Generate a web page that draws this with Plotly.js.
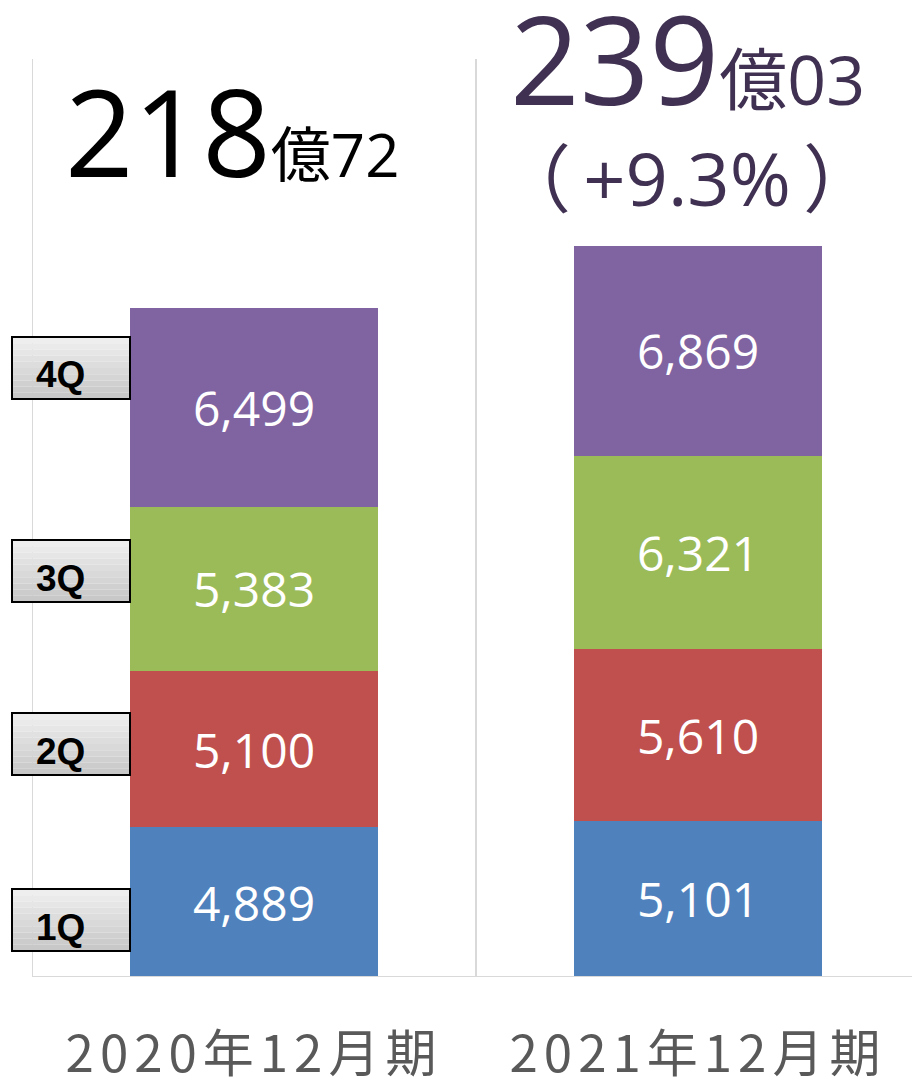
<!DOCTYPE html>
<html>
<head>
<meta charset="utf-8">
<script src="https://cdn.plot.ly/plotly-3.0.1.min.js"></script>
<style>
  html, body { margin: 0; padding: 0; background: #fff; overflow: hidden; }
  #chart { width: 912px; height: 1080px; }
  .xtick text { letter-spacing: 6px; }
</style>
</head>
<body>
<div id="chart"></div>
<script>
// ---- data ----
const categories = ["2020年12月期", "2021年12月期"];
const quarters = ["1Q", "2Q", "3Q", "4Q"];
const q1 = [4889, 5101];
const q2 = [5100, 5610];
const q3 = [5383, 6321];
const q4 = [6499, 6869];
const totalMain = ["218", "239"];
const totalSub = ["億72", "億03"];
const growthLabel = "（\u2009+9.3%\u2009）";

const seriesValues = [q1, q2, q3, q4];
const colors = ["#4f81bd", "#c0504d", "#9bbb59", "#8064a2"];

const fmt = v => v.toLocaleString("en-US");

const traces = seriesValues.map((vals, i) => ({
  type: "bar",
  name: quarters[i],
  x: categories,
  y: vals,
  marker: { color: colors[i], line: { width: 0 } },
  text: vals.map(fmt),
  textposition: "inside",
  insidetextanchor: "middle",
  textangle: 0,
  textfont: { family: "Open Sans, Noto Sans, sans-serif", size: 48, color: "#ffffff" },
  hoverinfo: "skip",
  cliponaxis: false
}));

// layout helpers (pixel -> paper)
const W = 912, H = 1080;
const mL = 32, mR = 0, mT = 59, mB = 103;
const plotW = W - mL - mR, plotH = H - mT - mB;
const px = X => (X - mL) / plotW;
const py = Y => (H - mB - Y) / plotH;

const gridColor = "#d9d9d9";
const shapes = [];
// vertical separators between categories
[-0.5, 0.5, 1.5].forEach(xv => {
  shapes.push({ type: "line", xref: "x", yref: "paper", x0: xv, x1: xv, y0: 0, y1: 1,
    line: { color: gridColor, width: 2 }, layer: "below" });
});
// baseline
shapes.push({ type: "line", xref: "paper", yref: "y", x0: 0, x1: 1, y0: 0, y1: 0,
  line: { color: gridColor, width: 2 }, layer: "above" });

// quarter label boxes (left) with a soft vertical gradient
const boxTops = { "4Q": 337, "3Q": 540, "2Q": 713, "1Q": 889 };
const boxH = 62;
const bands = 10;
const annotations = [];
quarters.forEach(q => {
  const t = boxTops[q];
  for (let b = 0; b < bands; b++) {
    const g = Math.round(238 - (238 - 200) * b / (bands - 1));
    shapes.push({ type: "rect", xref: "paper", yref: "paper",
      x0: px(12), x1: px(130), y0: py(t + boxH * (b + 1) / bands), y1: py(t + boxH * b / bands),
      fillcolor: `rgb(${g},${g},${g})`, line: { width: 0 }, layer: "above" });
  }
  shapes.push({ type: "rect", xref: "paper", yref: "paper",
    x0: px(12), x1: px(130), y0: py(t + boxH), y1: py(t),
    fillcolor: "rgba(0,0,0,0)", line: { color: "#000000", width: 2 }, layer: "above" });
  annotations.push({ xref: "paper", yref: "paper", x: px(60), y: py(t + boxH / 2 + 7),
    text: "<b>" + q + "</b>", showarrow: false, xanchor: "center", yanchor: "middle",
    font: { family: "Liberation Sans, Arial, sans-serif", size: 37, color: "#000000" } });
});

// totals above bars
const titleFont = "Open Sans, Noto Sans CJK JP, sans-serif";
annotations.push({
  xref: "x", yref: "paper", x: categories[0], xshift: -22, y: py(178), yanchor: "bottom", yshift: -36,
  text: totalMain[0] + '<span style="font-size:60px">' + totalSub[0] + '</span>',
  showarrow: false, font: { family: titleFont, size: 120, color: "#000000" }
});
annotations.push({
  xref: "x", yref: "paper", x: categories[1], xshift: -10, y: py(103), yanchor: "bottom", yshift: -40,
  text: totalMain[1] + '<span style="font-size:68px">' + totalSub[1] + '</span>',
  showarrow: false, font: { family: titleFont, size: 122, color: "#403152" }
});
annotations.push({
  xref: "x", yref: "paper", x: categories[1], xshift: -11, y: py(203), yanchor: "bottom", yshift: -27,
  text: growthLabel,
  showarrow: false, font: { family: titleFont, size: 74, color: "#403152" }
});

const layout = {
  width: W, height: H,
  margin: { l: mL, r: mR, t: mT, b: mB, pad: 0 },
  paper_bgcolor: "#ffffff", plot_bgcolor: "#ffffff",
  barmode: "stack",
  bargap: 0.44,
  showlegend: false,
  xaxis: {
    type: "category",
    range: [-0.5, 1.482],
    showgrid: false, zeroline: false, showline: false,
    ticks: "",
    ticklabelstandoff: 43,
    tickfont: { family: "Noto Sans CJK JP, sans-serif", size: 51, color: "#595959" },
    fixedrange: true
  },
  yaxis: {
    range: [0, 30000],
    showgrid: false, zeroline: false, showline: false,
    showticklabels: false, ticks: "",
    fixedrange: true
  },
  shapes: shapes,
  annotations: annotations
};

Plotly.newPlot("chart", traces, layout, { displayModeBar: false, staticPlot: true });
</script>
</body>
</html>
